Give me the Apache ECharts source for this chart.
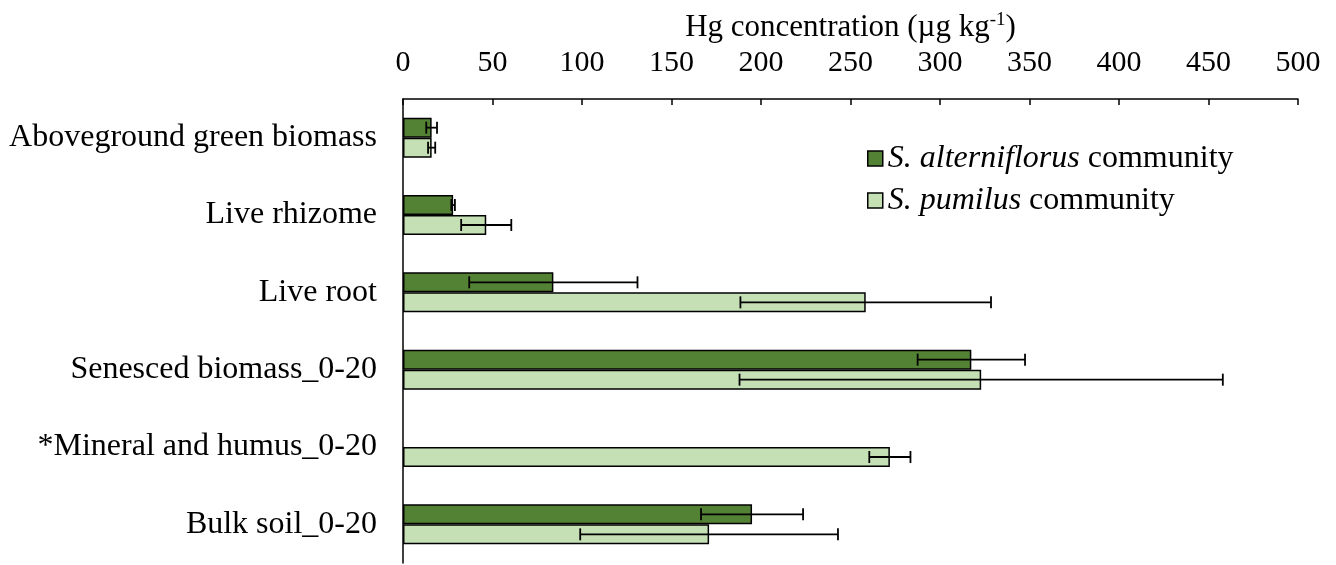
<!DOCTYPE html>
<html>
<head>
<meta charset="utf-8">
<script src="https://cdn.jsdelivr.net/npm/echarts@6/dist/echarts.min.js"></script>
<style>
html,body{margin:0;padding:0;background:#fff;}
#chart{width:1336px;height:565px;}
</style>
</head>
<body>
<div id="chart"></div>
<script>
const categories = ['Aboveground green biomass', 'Live rhizome', 'Live root', 'Senesced biomass_0-20', '*Mineral and humus_0-20', 'Bulk soil_0-20'];
const altValues = [16, 28, 84, 317.5, null, 195];
const altErrors = [3, 1, 47, 30, null, 28.5];
const pumValues = [16, 46.5, 258.5, 323, 272, 171];
const pumErrors = [2, 14, 70, 135, 11.5, 72];
const xTicks = [0, 500, 50];

const FONT = '"Liberation Serif", "Times New Roman", serif';
const BAR_W = 20;

function errData(vals, errs) {
  return vals.map((v, i) => (v == null ? null : [i, v, errs[i]])).filter(d => d);
}

function errRender(offsetSign) {
  return function (params, api) {
    const idx = api.value(0), v = api.value(1), e = api.value(2);
    const c = api.coord([v, idx]);
    const y = c[1] + offsetSign * BAR_W / 2;
    const lo = api.coord([v - e, idx])[0];
    const hi = api.coord([v + e, idx])[0];
    const cap = 6;
    const st = { stroke: '#000', lineWidth: 1.8 };
    return {
      type: 'group',
      children: [
        { type: 'line', shape: { x1: lo, y1: y, x2: hi, y2: y }, style: st },
        { type: 'line', shape: { x1: lo, y1: y - cap, x2: lo, y2: y + cap }, style: st },
        { type: 'line', shape: { x1: hi, y1: y - cap, x2: hi, y2: y + cap }, style: st }
      ]
    };
  };
}

const chart = echarts.init(document.getElementById('chart'), null, { renderer: 'canvas' });
chart.setOption({
  animation: false,
  backgroundColor: '#fff',
  textStyle: { fontFamily: FONT, color: '#000' },
  grid: { left: 403, right: 38, top: 99, bottom: 2, containLabel: false, outerBoundsMode: 'none' },
  legend: {
    orient: 'vertical',
    left: 862,
    top: 137,
    itemWidth: 15,
    itemHeight: 15,
    itemGap: 9,
    icon: 'rect',
    itemStyle: { borderColor: '#000', borderWidth: 1.5 },
    data: ['alt', 'pum'],
    formatter: function (name) {
      return name === 'alt' ? '{i|S. alterniflorus} community' : '{i|S. pumilus} community';
    },
    textStyle: {
      fontFamily: FONT, fontSize: 32, color: '#000', lineHeight: 33,
      rich: { i: { fontFamily: FONT, fontSize: 32, fontStyle: 'italic', color: '#000', lineHeight: 33 } }
    }
  },
  xAxis: {
    type: 'value',
    position: 'top',
    min: xTicks[0],
    max: xTicks[1],
    interval: xTicks[2],
    name: 'Hg concentration (µg kg{sup|-1})',
    nameLocation: 'middle',
    nameGap: 54,
    nameTextStyle: {
      fontFamily: FONT, fontSize: 31, color: '#000',
      rich: { sup: { fontFamily: FONT, fontSize: 19, color: '#000', padding: [0, 0, 15, 0] } }
    },
    axisLine: { show: true, lineStyle: { color: '#000', width: 1.5 } },
    axisTick: { show: true, inside: true, length: 6, lineStyle: { color: '#000', width: 1.5 } },
    axisLabel: { fontFamily: FONT, fontSize: 30, color: '#000', margin: 21 },
    splitLine: { show: false }
  },
  yAxis: {
    type: 'category',
    inverse: true,
    data: categories,
    axisLine: { show: true, lineStyle: { color: '#000', width: 1.5 } },
    axisTick: { show: false },
    axisLabel: { fontFamily: FONT, fontSize: 32, color: '#000', margin: 26, padding: [8, 0, 0, 0] }
  },
  series: [
    {
      name: 'alt', type: 'bar', data: altValues, barWidth: BAR_W, barGap: '0%',
      itemStyle: { color: '#548235', borderColor: '#000', borderWidth: 1.5 }
    },
    {
      name: 'pum', type: 'bar', data: pumValues, barWidth: BAR_W, barGap: '0%',
      itemStyle: { color: '#C5E0B4', borderColor: '#000', borderWidth: 1.5 }
    },
    {
      name: 'altErr', type: 'custom', renderItem: errRender(-1), data: errData(altValues, altErrors),
      encode: { x: 1, y: 0 }, z: 10
    },
    {
      name: 'pumErr', type: 'custom', renderItem: errRender(1), data: errData(pumValues, pumErrors),
      encode: { x: 1, y: 0 }, z: 10
    }
  ]
});
</script>
</body>
</html>
